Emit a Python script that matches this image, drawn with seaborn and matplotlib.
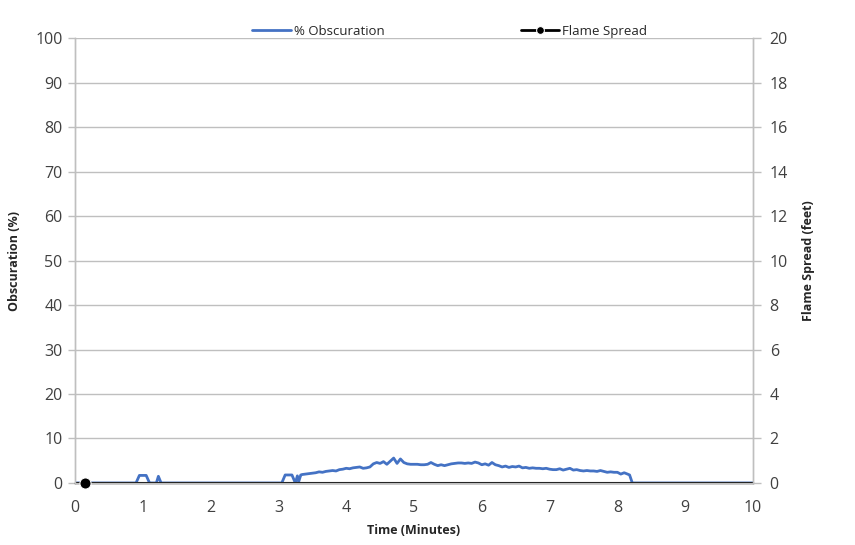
import numpy as np
import pandas as pd
import seaborn as sns
import matplotlib.pyplot as plt

# obscuration readings (minutes, %)
time_min = [0.00, 0.90, 0.95, 1.00, 1.05, 1.10, 1.20, 1.23, 1.27, 3.00, 3.05,
            3.10, 3.15, 3.20, 3.25, 3.28, 3.30, 3.33, 3.35, 3.40, 3.45, 3.50,
            3.55, 3.60, 3.65, 3.70, 3.75, 3.80, 3.85, 3.90, 3.95, 4.00, 4.05,
            4.10, 4.15, 4.20, 4.25, 4.30, 4.35, 4.40, 4.45, 4.50, 4.55, 4.60,
            4.65, 4.70, 4.75, 4.80, 4.85, 4.90, 4.95, 5.00, 5.05, 5.10, 5.15,
            5.20, 5.25, 5.30, 5.35, 5.40, 5.45, 5.50, 5.55, 5.60, 5.65, 5.70,
            5.75, 5.80, 5.85, 5.90, 5.95, 6.00, 6.05, 6.10, 6.15, 6.20, 6.25,
            6.30, 6.35, 6.40, 6.45, 6.50, 6.55, 6.60, 6.65, 6.70, 6.75, 6.80,
            6.85, 6.90, 6.95, 7.00, 7.05, 7.10, 7.15, 7.20, 7.25, 7.30, 7.35,
            7.40, 7.45, 7.50, 7.55, 7.60, 7.65, 7.70, 7.75, 7.80, 7.85, 7.90,
            7.95, 8.00, 8.05, 8.10, 8.15, 8.18, 8.22, 10.00]
obscuration = [0.0, 0.0, 1.7, 1.7, 1.7, 0.0, 0.0, 1.5, 0.0, 0.0, 0.0,
               1.8, 1.8, 1.8, 0.0, 1.6, 0.3, 1.8, 1.9, 2.0, 2.1, 2.2,
               2.3, 2.5, 2.4, 2.6, 2.7, 2.8, 2.7, 3.0, 3.1, 3.3, 3.2,
               3.4, 3.5, 3.6, 3.3, 3.4, 3.6, 4.3, 4.6, 4.4, 4.8, 4.2,
               4.9, 5.6, 4.4, 5.4, 4.6, 4.3, 4.2, 4.2, 4.2, 4.1, 4.1,
               4.2, 4.6, 4.2, 3.9, 4.1, 3.9, 4.1, 4.3, 4.4, 4.5, 4.5,
               4.4, 4.5, 4.4, 4.7, 4.5, 4.1, 4.3, 4.0, 4.6, 4.1, 3.9,
               3.6, 3.8, 3.5, 3.7, 3.6, 3.8, 3.4, 3.5, 3.3, 3.4, 3.3,
               3.3, 3.2, 3.3, 3.1, 3.0, 3.0, 3.2, 2.9, 3.1, 3.3, 2.9,
               3.0, 2.8, 2.7, 2.8, 2.7, 2.7, 2.6, 2.8, 2.6, 2.4, 2.5,
               2.4, 2.4, 2.0, 2.3, 2.0, 1.8, 0.0, 0.0]

# flame spread (minutes, feet)
flame_time = [0.15]
flame_spread = [0.0]

left_ticks = list(range(0, 101, 10))
right_ticks = list(range(0, 21, 2))
x_ticks = list(range(0, 11))

sns.set_theme(style="white")
plt.rcParams['font.family'] = ['Open Sans', 'DejaVu Sans']

obs_df = pd.DataFrame({"Time": time_min, "Obscuration": obscuration})
flame_df = pd.DataFrame({"Time": flame_time, "Flame": flame_spread})

fig = plt.figure(figsize=(8.55, 5.45), dpi=100)
ax = fig.add_axes([0.0877, 0.1138, 0.793, 0.8162])
ax2 = ax.twinx()

grid_c = "#bfbfbf"
tick_c = "#404040"

sns.lineplot(data=obs_df, x="Time", y="Obscuration", ax=ax, color="#4472c4",
             linewidth=2, label="% Obscuration", legend=False)
ax.axhline(0, color="black", linewidth=1.5, zorder=3)
sns.lineplot(data=flame_df, x="Time", y="Flame", ax=ax2, color="black",
             marker="o", markersize=8, linewidth=2, label="Flame Spread",
             legend=False, clip_on=False, zorder=5)

ax.set_xlim(0, 10)
ax.set_ylim(0, 100)
ax2.set_ylim(0, 20)
ax.set_xticks(x_ticks)
ax.set_yticks(left_ticks)
ax2.set_yticks(right_ticks)

ax.yaxis.grid(True, color=grid_c, linewidth=1)
ax.set_axisbelow(True)

for a in (ax, ax2):
    for s in a.spines.values():
        s.set_color(grid_c)
        s.set_linewidth(1)
    a.spines["top"].set_visible(False)
ax.spines["bottom"].set_color("black")

ax.tick_params(axis="both", which="both", direction="out", length=5, width=1,
               color=grid_c, labelsize=11.5, labelcolor=tick_c, pad=4)
ax.tick_params(axis="x", length=6, color=grid_c, pad=6)
ax2.tick_params(axis="y", direction="out", length=6, width=1, color=grid_c,
                labelsize=11.5, labelcolor=tick_c, pad=6)

ax.set_xlabel("Time (Minutes)", fontsize=9, fontweight="bold", labelpad=6)
ax.set_ylabel("Obscuration (%)", fontsize=9, fontweight="bold", labelpad=10)
ax2.set_ylabel("Flame Spread (feet)", fontsize=9, fontweight="bold", labelpad=10)

h1, l1 = ax.get_legend_handles_labels()
h2, l2 = ax2.get_legend_handles_labels()
fig.legend(h1 + h2, l1 + l2, loc="center", bbox_to_anchor=(0.526, 0.942),
           ncol=2, frameon=False, fontsize=9.5, handlelength=2.9,
           handletextpad=0.25, columnspacing=10.3, markerscale=0.7)

fig.savefig("out.png", dpi=100)
